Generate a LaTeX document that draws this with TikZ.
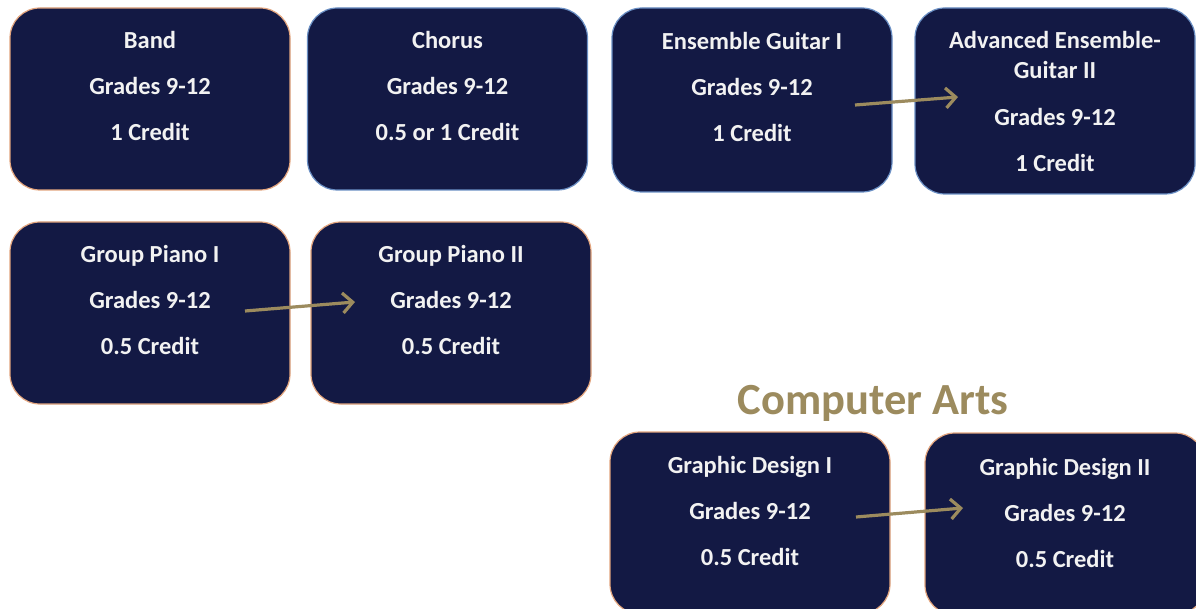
\documentclass[tikz,border=0pt]{standalone}
\usepackage{fontspec}
\setmainfont{Carlito}
\usetikzlibrary{arrows.meta,calc}
\definecolor{boxfill}{HTML}{131944}
\definecolor{orangeline}{HTML}{E3A57E}
\definecolor{blueline}{HTML}{6A8FC4}
\definecolor{tan}{HTML}{9C8B5E}
\definecolor{txtwhite}{HTML}{F2F2F2}
\tikzset{
  box/.style={draw=orangeline, line width=1.2pt, fill=boxfill, rounded corners=30pt,
    minimum width=280pt, minimum height=182pt, inner sep=0pt},
  bluebox/.style={box, draw=blueline},
  txt/.style={text=txtwhite, align=center, font=\bfseries\fontsize{24.5}{46}\selectfont, inner sep=0pt},
  title/.style={text=tan, font=\bfseries\fontsize{44.5}{50}\selectfont, inner sep=0pt},
  flow/.style={draw=tan, line width=3.2pt, -{Straight Barb[length=10pt,width=20pt]}}
}
\begin{document}
\begin{tikzpicture}[x=1pt,y=-1pt]
\useasboundingbox (0,0) rectangle (1196,609);
\fill[white] (0,0) rectangle (1196,609);
% row 1
\node[box] (band) at (150,99) {};
\node[txt] (bandt) at (150,86) {Band\\Grades 9-12\\1 Credit};
\node[bluebox] (chorus) at (447.5,99) {};
\node[txt] (chorust) at (447.5,86) {Chorus\\Grades 9-12\\0.5 or 1 Credit};
\node[bluebox, minimum height=184pt] (eg1) at (752,100) {};
\node[txt] (eg1t) at (752,87) {Ensemble Guitar I\\Grades 9-12\\1 Credit};
\node[bluebox, minimum height=186pt] (adv) at (1055,101) {};
\node[txt] (advt) at (1055,101.5) {Advanced Ensemble-\\[-16pt]Guitar II\\[1pt]Grades 9-12\\1 Credit};
% row 2
\node[box] (gp1) at (150,313) {};
\node[txt] (gp1t) at (150,299.5) {Group Piano I\\Grades 9-12\\0.5 Credit};
\node[box] (gp2) at (451,313) {};
\node[txt] (gp2t) at (451,299.5) {Group Piano II\\Grades 9-12\\0.5 Credit};
% computer arts
\node[title] (ca) at (873,403) {Computer Arts};
\node[box] (gd1) at (750,523) {};
\node[txt] (gd1t) at (750,510.5) {Graphic Design I\\Grades 9-12\\0.5 Credit};
\node[box] (gd2) at (1065,524) {};
\node[txt] (gd2t) at (1065,512.5) {Graphic Design II\\Grades 9-12\\0.5 Credit};
% arrows
\coordinate (a1s) at ($(eg1.center)+(103,5)$);
\coordinate (a1e) at ($(adv.center)+(-97,-4)$);
\draw[flow] (a1s) -- (a1e);
\coordinate (a2s) at ($(gp1.center)+(95,-2)$);
\coordinate (a2e) at ($(gp2.center)+(-96,-11)$);
\draw[flow] (a2s) -- (a2e);
\coordinate (a3s) at ($(gd1.center)+(106,-6)$);
\coordinate (a3e) at ($(gd2.center)+(-102,-16)$);
\draw[flow] (a3s) -- (a3e);
\end{tikzpicture}
\end{document}
